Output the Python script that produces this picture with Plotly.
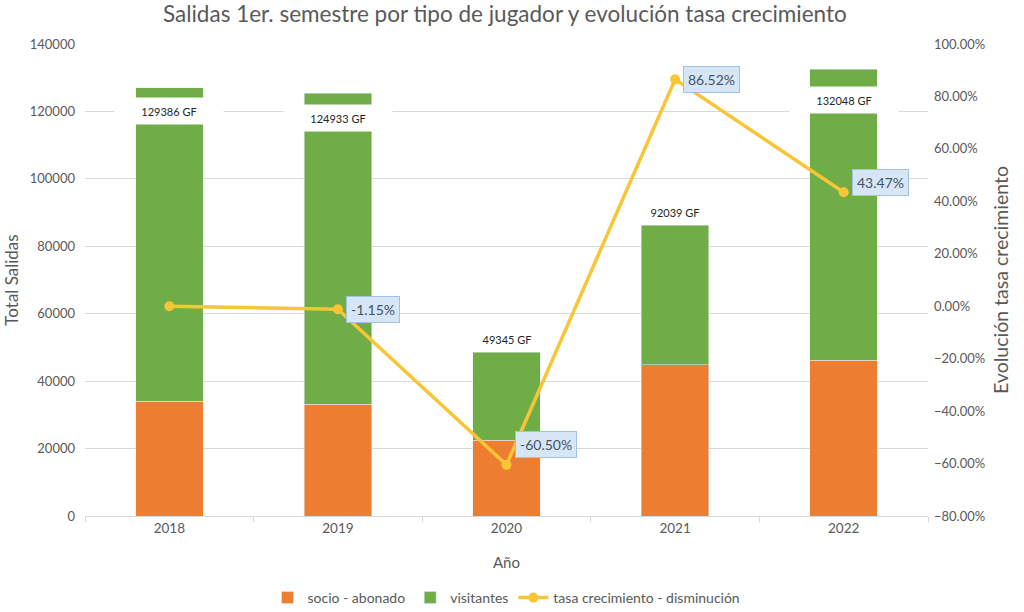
import plotly.graph_objects as go

# ---- data ----
years = ["2018", "2019", "2020", "2021", "2022"]
socio_abonado = [34000, 33200, 22500, 44800, 46200]
visitantes = [93000, 92200, 26100, 41500, 86300]
total_labels = [129386, 124933, 49345, 92039, 132048]
tasa = [0.0, -0.0115, -0.6050, 0.8652, 0.4347]

# ---- styles ----
ORANGE = "#ED7D31"
GREEN = "#70AD47"
GOLD = "#F8C537"
TXT = "#595959"
FONT = "Lato"

xpos = list(range(len(years)))

fig = go.Figure()
fig.add_trace(go.Bar(x=xpos, y=socio_abonado, name="socio - abonado",
                     marker_color=ORANGE, yaxis="y"))
fig.add_trace(go.Bar(x=xpos, y=visitantes, name="visitantes",
                     marker_color=GREEN, yaxis="y"))
fig.add_trace(go.Scatter(x=xpos, y=tasa, name="tasa crecimiento - disminución",
                         mode="lines+markers", yaxis="y2",
                         line=dict(color=GOLD, width=3.5),
                         marker=dict(color=GOLD, size=10)))

# total labels (white boxes)
label_offsets = [-7000, -7400, 3800, 3800, -9000]
for i in xpos:
    top = socio_abonado[i] + visitantes[i]
    fig.add_annotation(x=i, y=top + label_offsets[i], xref="x", yref="y",
                       text=f"{total_labels[i]} GF", showarrow=False,
                       font=dict(family=FONT, size=11, color="#262626"),
                       bgcolor="white" if label_offsets[i] < 0 else "rgba(0,0,0,0)",
                       borderpad=6, width=96, height=14)

# percentage labels (blue boxes)
pct_yshift = [0, 0, 20, 0, 10]
for i in xpos:
    if i == 0:
        continue
    fig.add_annotation(x=i, y=tasa[i], xref="x", yref="y2",
                       text=f"{tasa[i]*100:.2f}%", showarrow=False,
                       xanchor="left", xshift=8, yshift=pct_yshift[i],
                       font=dict(family=FONT, size=14, color="#44546A"),
                       bgcolor="#D6E6F5", bordercolor="#9DC3E6",
                       borderwidth=1, borderpad=4)

fig.update_layout(
    width=1024, height=612,
    barmode="stack", bargap=0.6,
    paper_bgcolor="white", plot_bgcolor="white",
    margin=dict(l=85, r=96, t=44, b=96, autoexpand=False),
    font=dict(family=FONT, size=13, color=TXT),
    title=dict(text="Salidas 1er. semestre por tipo de jugador y evolución tasa crecimiento",
               x=0.493, xanchor="center", y=1 - 14 / 612, yanchor="middle",
               font=dict(family=FONT, size=22.5, color=TXT)),
    xaxis=dict(range=[-0.5, 4.5], tickmode="array", tickvals=xpos, ticktext=years,
               showline=True, linecolor="#D9D9D9", linewidth=1, automargin=False,
               ticks="", showgrid=False, zeroline=False,
               minor=dict(tickmode="array", tickvals=[p - 0.5 for p in xpos] + [len(years) - 0.5],
                          ticks="outside", ticklen=5, tickcolor="#D9D9D9", showgrid=False),
               tickfont=dict(size=13.5, color=TXT),
               title=dict(text="Año", font=dict(size=15, color=TXT), standoff=22)),
    yaxis=dict(range=[0, 140000], dtick=20000, tickformat="d", automargin=False,
               showgrid=True, gridcolor="#D9D9D9", zeroline=False,
               tickfont=dict(size=13, color=TXT), ticklabelstandoff=9,
               title=dict(text="Total Salidas", font=dict(size=17, color=TXT), standoff=6)),
    yaxis2=dict(range=[-0.8, 1.0], dtick=0.2, tickformat=".2%", automargin=False,
                overlaying="y", side="right", showgrid=False, zeroline=False,
                tickfont=dict(size=13, color=TXT), ticklabelstandoff=5,
                title=dict(text="Evolución tasa crecimiento", font=dict(size=19.5, color=TXT), standoff=10)),
    legend=dict(orientation="h", x=0.5, xanchor="center", y=-82 / 472, yanchor="middle",
                font=dict(size=14, color=TXT), traceorder="normal", itemwidth=30),
    showlegend=True,
)

fig.write_html("out.html", config={"displayModeBar": False},
               post_script="document.body.style.margin='0';")
